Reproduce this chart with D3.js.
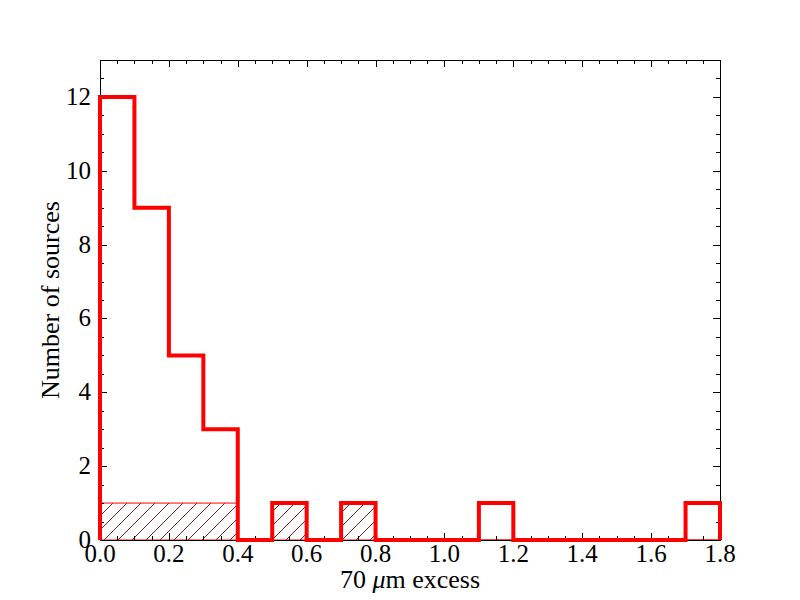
<!DOCTYPE html>
<html>
<head>
<meta charset="utf-8">
<script src="https://cdn.jsdelivr.net/npm/d3@7"></script>
<style>
  body { margin: 0; background: #fff; }
  text { font-family: "Liberation Serif", "DejaVu Serif", serif; fill: #000; }
</style>
</head>
<body>
<svg width="800" height="600"></svg>
<script>
// bin edges 0.0 .. 1.8, step 0.1
var binEdges = [0.0,0.1,0.2,0.3,0.4,0.5,0.6,0.7,0.8,0.9,1.0,1.1,1.2,1.3,1.4,1.5,1.6,1.7,1.8];
// all sources (red step)
var allCounts = [12,9,5,3,0,1,0,1,0,0,0,1,0,0,0,0,0,1];
// subset (hatched)
var subCounts = [1,1,1,1,0,1,0,1,0,0,0,0,0,0,0,0,0,0];

var xTicks = [0.0,0.2,0.4,0.6,0.8,1.0,1.2,1.4,1.6,1.8];
var yTicks = [0,2,4,6,8,10,12];

var svg = d3.select("svg");
var plotL = 100, plotR = 720, plotT = 60, plotB = 540;

var x = d3.scaleLinear().domain([0, 1.8]).range([plotL, plotR]);
var y = d3.scaleLinear().domain([0, 13]).range([plotB, plotT]);

// hatch pattern
var defs = svg.append("defs");
var pat = defs.append("pattern")
    .attr("id", "hatch")
    .attr("patternUnits", "userSpaceOnUse")
    .attr("width", 14).attr("height", 14);
pat.append("path")
    .attr("d", "M-1,15 L15,-1 M-8,8 L8,-8 M6,22 L22,6")
    .attr("stroke", "#7a2020")
    .attr("stroke-width", 1);

// step outline builder
function stepPoints(counts) {
    var pts = [[binEdges[0], 0]];
    counts.forEach(function(c, i) {
        pts.push([binEdges[i], c]);
        pts.push([binEdges[i + 1], c]);
    });
    pts.push([binEdges[binEdges.length - 1], 0]);
    return pts;
}

var line = d3.line().x(d => x(d[0])).y(d => y(d[1]));

// hatched subset, stepfilled
svg.append("path")
    .attr("d", line(stepPoints(subCounts)) + "Z")
    .attr("fill", "url(#hatch)")
    .attr("stroke", "red")
    .attr("stroke-width", 1);

// frame
svg.append("rect")
    .attr("x", plotL + 0.5).attr("y", plotT + 0.5)
    .attr("width", plotR - plotL).attr("height", plotB - plotT)
    .attr("fill", "none").attr("stroke", "#000").attr("stroke-width", 1);

// ticks, inward on all sides
var g = svg.append("g").attr("stroke", "#000").attr("stroke-width", 1);
var xMinor = d3.range(0, 36).map(i => i * 0.05).concat([1.8]);
var yMinor = d3.range(0, 27).map(i => i * 0.5);
xMinor.forEach(function(v, i) {
    var len = (i % 4 === 0) ? 7 : 4;
    var px = Math.round(x(v)) + 0.5;
    g.append("line").attr("x1", px).attr("x2", px).attr("y1", plotB).attr("y2", plotB - len);
    g.append("line").attr("x1", px).attr("x2", px).attr("y1", plotT).attr("y2", plotT + len);
});
yMinor.forEach(function(v, i) {
    var len = (i % 4 === 0) ? 7 : 4;
    var py = Math.round(y(v)) + 0.5;
    g.append("line").attr("x1", plotL).attr("x2", plotL + len).attr("y1", py).attr("y2", py);
    g.append("line").attr("x1", plotR).attr("x2", plotR - len).attr("y1", py).attr("y2", py);
});

// red step line (all sources)
svg.append("path")
    .attr("d", line(stepPoints(allCounts)))
    .attr("fill", "none")
    .attr("stroke", "red")
    .attr("stroke-width", 4)
    .attr("stroke-linejoin", "miter");

// tick labels
svg.append("g").selectAll("text").data(xTicks).join("text")
    .attr("x", d => x(d)).attr("y", plotB + 22)
    .attr("text-anchor", "middle")
    .attr("font-size", 25)
    .text(d => d.toFixed(1));

svg.append("g").selectAll("text").data(yTicks).join("text")
    .attr("x", plotL - 9).attr("y", d => y(d) + 8)
    .attr("text-anchor", "end")
    .attr("font-size", 25)
    .text(d => d);

// axis labels
var xl = svg.append("text")
    .attr("x", (plotL + plotR) / 2).attr("y", 588)
    .attr("text-anchor", "middle")
    .attr("font-size", 26);
xl.append("tspan").text("70 ");
xl.append("tspan").attr("font-style", "italic").text("μ");
xl.append("tspan").text("m excess");

svg.append("text")
    .attr("transform", "translate(59," + ((plotT + plotB) / 2) + ") rotate(-90)")
    .attr("text-anchor", "middle")
    .attr("font-size", 26)
    .text("Number of sources");
</script>
</body>
</html>
